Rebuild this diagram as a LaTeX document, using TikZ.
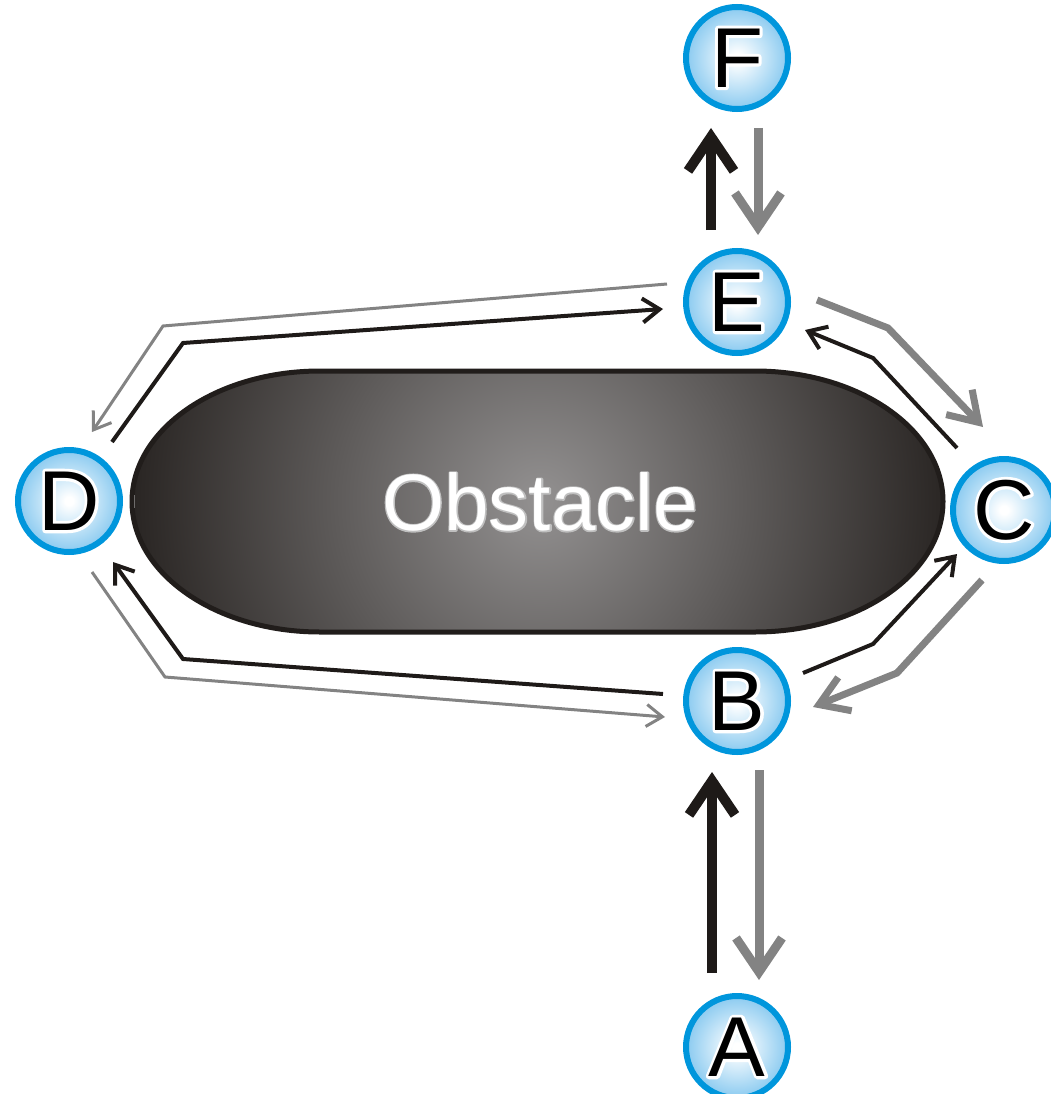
\documentclass[tikz,border=0pt]{standalone}
\usepackage{fontspec}
\setmainfont{Liberation Sans}
\usetikzlibrary{arrows.meta,calc}
\definecolor{nodeblue}{HTML}{0096DC}
\definecolor{ballblue}{HTML}{8ACAF0}
\definecolor{arrblack}{HTML}{1E1A18}
\definecolor{arrgray}{HTML}{838383}
\definecolor{obstlight}{HTML}{939191}
\definecolor{obstdark}{HTML}{2A2624}
\definecolor{obstborder}{HTML}{211D1B}
\pgfdeclareradialshading{ballshade}{\pgfpoint{0bp}{0bp}}{color(0bp)=(white); color(2bp)=(white); color(25bp)=(ballblue); color(50bp)=(ballblue)}
\pgfdeclareradialshading{obstshade}{\pgfpoint{0bp}{0bp}}{color(0bp)=(obstlight); color(25bp)=(obstdark); color(50bp)=(obstdark)}
% outlined text: a stroked copy underneath, then the normal text
\newcommand{\outlinedtext}[3]{\makebox[0pt][l]{\special{pdf:literal direct 1 Tr #2 w 1 j #3 RG}#1\special{pdf:literal direct 0 Tr}}#1}
\tikzset{
  waypoint/.style={circle, shade, shading=ballshade, draw=nodeblue, line width=6pt,
    minimum size=102pt, inner sep=0pt, text=black,
    font=\fontsize{85}{85}\selectfont},
  bigblack/.style={draw=arrblack, line width=10pt, -{Straight Barb[length=34pt,width=46pt]}},
  biggray/.style={draw=arrgray, line width=9pt, -{Straight Barb[length=34pt,width=46pt]}},
  midgray/.style={draw=arrgray, line width=7pt, -{Straight Barb[length=28pt,width=36pt]}},
  thinblack/.style={draw=arrblack, line width=4pt, -{Straight Barb[length=17pt,width=24pt]}},
  thingray/.style={draw=arrgray, line width=3pt, -{Straight Barb[length=16pt,width=22pt]}},
}
\begin{document}
\begin{tikzpicture}[x=1pt,y=-1pt]
\useasboundingbox (0,0) rectangle (1050,1094);
% obstacle
\begin{scope}
\clip (320,371) -- (755,371) .. controls (858.8,371) and (943,429.4) .. (943,501.5)
  .. controls (943,573.6) and (858.8,632) .. (755,632) -- (320,632)
  .. controls (216.2,632) and (132,573.6) .. (132,501.5)
  .. controls (132,429.4) and (216.2,371) .. (320,371) -- cycle;
\shade[shading=obstshade] (135,96) rectangle (945,906);
\end{scope}
\draw[obstborder, line width=5pt] (320,371) -- (755,371) .. controls (858.8,371) and (943,429.4) .. (943,501.5)
  .. controls (943,573.6) and (858.8,632) .. (755,632) -- (320,632)
  .. controls (216.2,632) and (132,573.6) .. (132,501.5)
  .. controls (132,429.4) and (216.2,371) .. (320,371) -- cycle;
\node[text=white, font=\fontsize{80}{80}\selectfont, inner sep=0pt] (obst) at (540,502)
  {\outlinedtext{Obstacle}{2.5}{0.75 0.75 0.75}};
% waypoints
\node[waypoint] (F) at (737,58) {\outlinedtext{F}{6}{1 1 1}};
\node[waypoint] (E) at (737,302) {\outlinedtext{E}{6}{1 1 1}};
\node[waypoint] (C) at (1004,510) {\outlinedtext{C}{6}{1 1 1}};
\node[waypoint] (D) at (69,501) {\outlinedtext{D}{6}{1 1 1}};
\node[waypoint] (B) at (737,701) {\outlinedtext{B}{6}{1 1 1}};
\node[waypoint] (A) at (737,1047) {\outlinedtext{A}{6}{1 1 1}};
% vertical arrows
\draw[bigblack] ($(A)+(-25,-74)$) -- ($(B)+(-25,71)$);
\draw[biggray] ($(B)+(22,69)$) -- ($(A)+(22,-67)$);
\draw[bigblack] ($(E)+(-26,-72)$) -- ($(F)+(-26,70)$);
\draw[biggray] ($(F)+(21,70)$) -- ($(E)+(21,-67)$);
% right side
\draw[midgray] ($(E)+(80,-2)$) -- (888,328) -- ($(C)+(-21,-83)$);
\draw[thinblack] ($(C)+(-47,-62)$) -- (873,358) -- ($(E)+(68,28)$);
\draw[thinblack] ($(B)+(66,-28)$) -- (873,644) -- ($(C)+(-47,44)$);
\draw[midgray] ($(C)+(-22,70)$) -- (897,673) -- ($(B)+(76,6)$);
% left side
\draw[thingray] ($(E)+(-70,-18)$) -- (163,326) -- ($(D)+(23,-69)$);
\draw[thinblack] ($(D)+(43,-59)$) -- (183,343) -- ($(E)+(-74,7)$);
\draw[thingray] ($(D)+(23,71)$) -- (165,677) -- ($(B)+(-72,16)$);
\draw[thinblack] ($(B)+(-74,-7)$) -- (183,659) -- ($(D)+(44,61)$);
\end{tikzpicture}
\end{document}
